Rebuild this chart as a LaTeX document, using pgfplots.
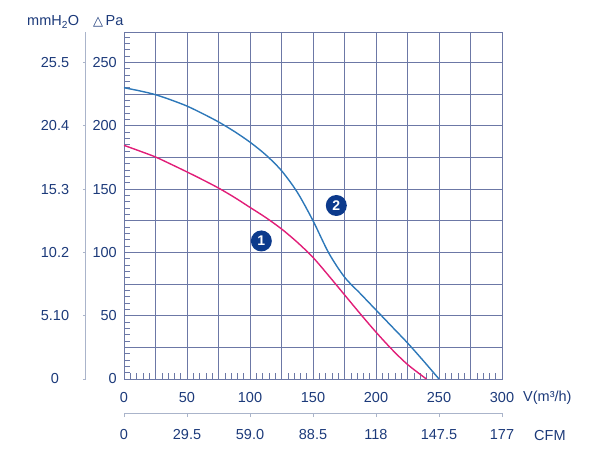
\documentclass[border=0pt]{standalone}
\usepackage{fontspec}
\setmainfont{Liberation Sans}
\newfontfamily\djv{DejaVu Sans}
\usepackage{pgfplots}
\pgfplotsset{compat=1.18}
\definecolor{gridc}{RGB}{108,120,166}
\definecolor{txtc}{RGB}{28,58,122}
\definecolor{sepc}{RGB}{170,180,202}
\definecolor{blue2}{RGB}{45,120,185}
\definecolor{mag1}{RGB}{225,30,120}
\definecolor{navy}{RGB}{12,58,140}
\newcommand{\tf}{\fontsize{14.5}{17}\selectfont}
\begin{document}
\begin{tikzpicture}
\useasboundingbox (0,0) rectangle (611pt,461pt);
\begin{axis}[
 at={(124pt,82pt)}, anchor=south west,
 scale only axis, width=378pt, height=347pt,
 xmin=0,xmax=300,ymin=0,ymax=274,
 clip=false,
 axis line style={gridc, line width=0.8pt},
 xtick={0,50,...,300}, ytick={0,50,...,250},
 xticklabels={0,50,100,150,200,250,300},
 yticklabels={0,50,100,150,200,250},
 extra x ticks={25,75,...,275}, extra x tick labels={},
 extra y ticks={25,75,...,225}, extra y tick labels={},
 extra tick style={grid=major},
 minor xtick={5,10,...,295}, minor ytick={5,10,...,270},
 grid=major,
 major grid style={gridc, line width=0.8pt},
 tick align=inside, tick pos=left,
 major tick length=6pt, minor tick length=6pt,
 tick style={gridc, line width=0.6pt},
 ticklabel style={font=\tf, text=txtc, inner sep=0pt},
 xticklabel style={anchor=north, yshift=-13pt},
 yticklabel style={anchor=east, xshift=-7pt},
]
\addplot[blue2, line width=1.4pt, smooth] coordinates {
(0,230) (12.5,227.5) (25,224.5) (37.5,220.3) (50,215.5) (62.5,209.5) (75,203)
(87.5,195.5) (100,187) (112.5,177) (125,164.5) (137.5,147.5) (150,125)
(162.5,99.5) (175,80.5) (187.5,67.5) (200,54.5) (212.5,41.5) (225,28.5)
(237.5,14.5) (250,0)};
\addplot[mag1, line width=1.4pt, smooth] coordinates {
(0,184.5) (12.5,180) (25,175.3) (37.5,169.5) (50,163.5) (62.5,157.3) (75,150.8)
(87.5,143.5) (100,135.5) (112.5,127.5) (125,118.5) (137.5,108) (150,96)
(162.5,81.5) (175,66.5) (187.5,51.5) (200,37) (212.5,23.5) (225,11.5) (240,0)};
\node[circle, fill=navy, text=white, inner sep=0pt, minimum size=21pt,
  font=\bfseries\fontsize{14}{14}\selectfont] at (axis cs:109,109) {1};
\node[circle, fill=navy, text=white, inner sep=0pt, minimum size=21pt,
  font=\bfseries\fontsize{14}{14}\selectfont] at (axis cs:168.5,137) {2};
\node[anchor=west, text=txtc, font=\tf, inner sep=0pt, xshift=21pt, yshift=-19pt]
  at (rel axis cs:1,0) {V(m³/h)};
\end{axis}
\begin{axis}[
 at={(124pt,48pt)}, anchor=south west,
 scale only axis, width=378pt, height=10pt,
 xmin=0,xmax=300,ymin=0,ymax=1,
 clip=false,
 axis x line=bottom, axis y line=none,
 x axis line style={-, sepc, line width=1pt},
 xtick={0,50,...,300},
 xticklabels={0,29.5,59.0,88.5,118,147.5,177},
 ytick=\empty,
 tick align=outside, major tick length=4pt,
 tick style={sepc, line width=0.8pt},
 ticklabel style={font=\tf, text=txtc, inner sep=0pt},
 xticklabel style={anchor=north, yshift=-12pt},
]
\node[anchor=west, text=txtc, font=\tf, inner sep=0pt, xshift=32pt, yshift=-23pt]
  at (rel axis cs:1,0) {CFM};
\end{axis}
\begin{axis}[
 at={(86pt,82pt)}, anchor=south west,
 scale only axis, width=10pt, height=347pt,
 xmin=0,xmax=1,ymin=0,ymax=274,
 clip=false,
 axis y line=left, axis x line=none,
 y axis line style={-, sepc, line width=1pt},
 ytick={0,50,...,250},
 yticklabels={0,5.10,10.2,15.3,20.4,25.5},
 xtick=\empty,
 tick align=outside, major tick length=3pt,
 tick style={sepc, line width=0.8pt},
 ticklabel style={font=\tf, text=txtc, inner sep=0pt},
 yticklabel style={anchor=center, xshift=-28pt},
]
\end{axis}
\node[anchor=base west, text=txtc, font=\tf, inner sep=0pt] at (27pt,435pt) {mmH\textsubscript{2}O};
\node[anchor=base west, text=txtc, inner sep=0pt] at (93pt,435pt) {{\djv\fontsize{13}{13}\selectfont △}{\tf\,Pa}};
\end{tikzpicture}
\end{document}
